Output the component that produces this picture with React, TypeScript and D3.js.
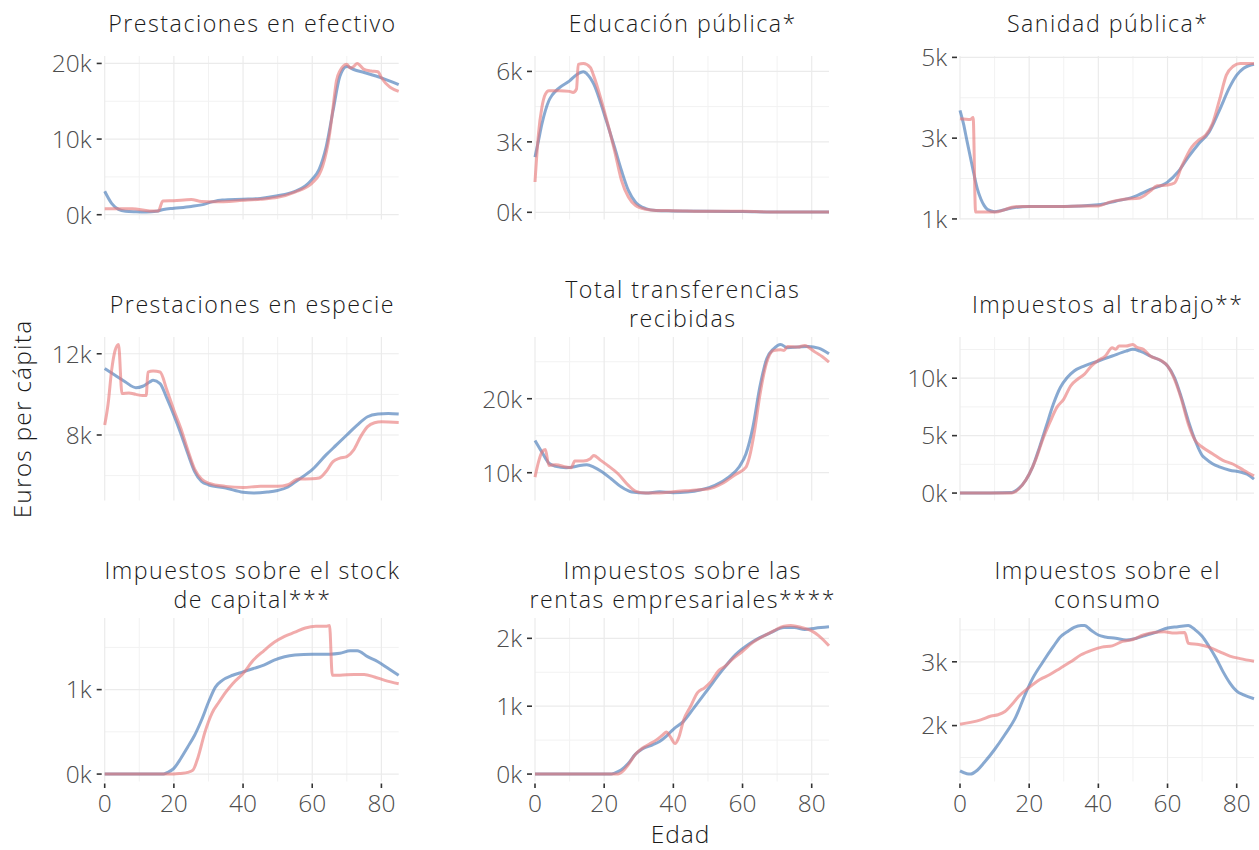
import React from "react";
import * as d3 from "d3";

type Pt = [number, number];

// ---------- DATA (euros per cápita by age) ----------
const ageTicks = [0, 20, 40, 60, 80];
const ageMinor = [10, 30, 50, 70];

const titles: string[][] = [
  ["Prestaciones en efectivo"],
  ["Educación pública*"],
  ["Sanidad pública*"],
  ["Prestaciones en especie"],
  ["Total transferencias", "recibidas"],
  ["Impuestos al trabajo**"],
  ["Impuestos sobre el stock", "de capital***"],
  ["Impuestos sobre las", "rentas empresariales****"],
  ["Impuestos sobre el", "consumo"],
];

const yBreaks: number[][] = [
  [0, 10000, 20000],
  [0, 3000, 6000],
  [1000, 3000, 5000],
  [8000, 12000],
  [10000, 20000],
  [0, 5000, 10000],
  [0, 1000],
  [0, 1000, 2000],
  [2000, 3000],
];

const efectivoA: Pt[] = [[0,3100],[2,1500],[4,700],[6,450],[9,380],[12,350],[15,450],[17,700],[20,850],[25,1100],[28,1300],[31,1700],[34,1950],[40,2050],[45,2150],[50,2500],[55,3100],[58,3800],[60,4700],[62,6000],[64,8900],[66,13700],[68,18300],[70,19600],[72,19200],[75,18800],[80,18100],[85,17200]];
const efectivoB: Pt[] = [[0,800],[8,800],[13,500],[15.5,500],[16.8,1800],[20,1850],[25,2000],[28,1750],[32,1700],[40,1900],[45,2050],[50,2300],[55,3000],[60,4200],[62,5300],[63,6400],[65,10600],[66,14100],[67,17700],[68,19000],[70,19900],[71,19400],[72,19600],[73,20000],[75,19200],[77,19000],[79,18900],[80,18100],[85,16300]];

const educacionA: Pt[] = [[0,2350],[1,3050],[2,3760],[3,4330],[4,4750],[5,5000],[7,5300],[10,5600],[12,5860],[14,5990],[15,5900],[17,5460],[20,4190],[23,2770],[25,1780],[27,930],[29,440],[32,160],[35,80],[40,60],[50,40],[60,30],[70,10],[85,10]];
const educacionB: Pt[] = [[0,1290],[1,3340],[2,4470],[3,5030],[4,5180],[7,5180],[10,5150],[11,5100],[12,5250],[12.5,6300],[14,6340],[16,6170],[17,5800],[20,4330],[23,2630],[25,1360],[27,650],[29,300],[32,130],[35,80],[40,70],[50,40],[60,40],[70,10],[85,10]];

const sanidadA: Pt[] = [[0,3690],[1,3360],[2,2940],[3,2530],[4,2120],[5,1750],[6,1500],[7,1330],[8,1230],[10,1180],[12,1210],[15,1270],[20,1310],[30,1310],[40,1350],[45,1440],[50,1540],[55,1730],[60,1910],[63,2160],[66,2530],[69,2860],[72,3150],[75,3690],[78,4270],[80,4560],[82,4730],[85,4830]];
const sanidadB: Pt[] = [[0,3480],[3,3460],[3.8,3510],[4.5,1170],[10,1170],[11,1180],[13,1230],[15,1290],[18,1310],[25,1310],[30,1310],[35,1320],[40,1320],[43,1410],[47,1480],[52,1520],[55,1690],[57,1820],[60,1840],[62,1890],[64,2280],[67,2780],[69,2950],[71,3070],[73,3360],[75,3940],[77,4560],[79,4780],[81,4850],[85,4850]];

const especieA: Pt[] = [[0,11270],[3,10940],[6,10610],[9,10330],[11,10400],[13,10610],[14,10690],[16,10530],[18,9800],[20,8980],[22,8080],[24,7100],[26,6200],[28,5710],[30,5550],[35,5390],[40,5180],[43,5140],[47,5190],[50,5270],[53,5440],[56,5800],[60,6290],[64,7020],[67,7510],[70,8000],[73,8490],[76,8900],[79,9030],[82,9060],[85,9030]];
const especieB: Pt[] = [[0,8490],[1,9550],[2,11180],[3,12160],[4,12460],[5,10040],[7,10070],[9,10000],[11,9940],[12,9940],[12.5,11100],[14,11150],[16,11100],[18,10200],[20,9220],[22,8330],[24,7270],[26,6320],[28,5830],[30,5630],[35,5470],[40,5420],[45,5470],[50,5470],[53,5550],[56,5830],[60,5840],[62,5880],[64,6200],[66,6690],[68,6860],[70,6940],[72,7270],[74,7920],[76,8410],[78,8600],[80,8650],[85,8620]];

const totalA: Pt[] = [[0,14370],[2,12790],[4,11300],[6,10860],[9,10680],[11,10770],[13,10990],[15,11080],[17,10770],[19,10230],[22,9190],[25,8060],[28,7390],[32,7250],[36,7430],[40,7300],[44,7390],[48,7700],[52,8290],[56,9410],[59,10770],[61,12570],[63,16170],[65,21580],[67,25400],[69,26760],[71,27340],[73,26890],[76,26980],[79,27070],[82,26850],[85,26080]];
const totalB: Pt[] = [[0,9410],[1,11440],[2,12790],[3,13150],[4,10990],[6,11080],[9,10770],[10.5,10680],[11.5,11580],[14,11580],[16,11890],[17,12340],[19,11670],[21,10990],[24,9860],[27,8290],[29,7520],[32,7250],[36,7250],[40,7430],[45,7610],[50,7790],[54,8510],[58,9770],[61,10770],[62,12120],[63.5,15720],[65,20450],[67,24950],[69,26530],[71,26620],[72,26530],[73,27070],[76,26980],[78,27200],[79,26980],[81,26300],[83,25720],[85,24950]];

const trabajoA: Pt[] = [[0,0],[15,60],[17,400],[19,1120],[21,2280],[23,4000],[25,5880],[27,7750],[29,9190],[31,10060],[33,10630],[36,11070],[40,11500],[44,11930],[48,12360],[50,12510],[52,12360],[55,11930],[60,11070],[62,10060],[64,8330],[66,6310],[68,4580],[70,3290],[71,3000],[73,2560],[75,2280],[78,1990],[81,1840],[83,1640],[85,1210]];
const trabajoB: Pt[] = [[0,0],[15,0],[16,120],[18,690],[20,1640],[22,3000],[24,4730],[26,6170],[28,7460],[30,8180],[32,9340],[34,9910],[36,10350],[38,11070],[40,11560],[42,11930],[44,12650],[45,12510],[46,12800],[48,12800],[50,12940],[51,12710],[53,12510],[55,11930],[58,11560],[60,11070],[62,9910],[64,8180],[66,6020],[68,4580],[70,4010],[73,3430],[76,2850],[79,2510],[82,1990],[85,1500]];

const capitalA: Pt[] = [[0,0],[17,0],[18,16],[20,67],[22,185],[24,320],[26,460],[28,640],[30,850],[32,1030],[34,1110],[37,1170],[40,1210],[43,1250],[46,1290],[49,1350],[52,1390],[55,1410],[60,1420],[65,1420],[68,1430],[71,1460],[73,1460],[76,1390],[79,1330],[82,1250],[85,1170]];
const capitalB: Pt[] = [[0,0],[20,0],[22,8],[24,20],[25.5,47],[27,200],[29,500],[31,720],[33,850],[35,970],[37,1070],[40,1190],[43,1350],[46,1460],[49,1560],[52,1630],[55,1680],[58,1730],[61,1750],[64,1750],[65,1760],[65.8,1170],[68,1170],[72,1180],[75,1180],[78,1150],[81,1110],[85,1070]];

const rentasA: Pt[] = [[0,0],[22,0],[23,15],[25,64],[27,160],[29,290],[31,370],[34,430],[36,480],[38,560],[40,660],[43,780],[46,980],[50,1250],[54,1520],[58,1760],[62,1920],[65,2010],[68,2080],[72,2160],[75,2160],[78,2130],[81,2150],[85,2170]];
const rentasB: Pt[] = [[0,0],[24,0],[25,25],[27,140],[29,290],[31,380],[33,440],[35,500],[37,580],[38,620],[39,560],[40.5,450],[41.5,530],[43,800],[45,1000],[47,1200],[49,1270],[51,1370],[53,1520],[55,1590],[57,1690],[60,1810],[63,1940],[66,2030],[69,2110],[72,2180],[74,2190],[77,2160],[80,2110],[82,2040],[85,1890]];

const consumoA: Pt[] = [[0,1290],[2,1245],[3,1240],[5,1300],[7,1420],[10,1625],[13,1860],[16,2120],[19,2510],[21,2740],[24,3000],[27,3240],[29,3390],[31,3470],[33,3540],[35,3570],[36,3570],[38,3490],[40,3420],[42,3390],[45,3370],[48,3340],[51,3370],[54,3420],[57,3470],[60,3530],[63,3550],[66,3570],[68,3500],[70,3400],[72,3240],[74,3060],[76,2850],[78,2670],[80,2540],[82,2480],[85,2420]];
const consumoB: Pt[] = [[0,2020],[3,2050],[6,2090],[9,2150],[11,2170],[13,2220],[15,2330],[17,2460],[20,2600],[23,2720],[26,2800],[29,2900],[32,3000],[35,3110],[38,3180],[41,3230],[44,3250],[47,3320],[50,3350],[53,3420],[56,3460],[59,3470],[62,3450],[65,3460],[66,3290],[69,3270],[72,3230],[75,3160],[78,3090],[81,3050],[85,3010]];

const seriesA: Pt[][] = [efectivoA, educacionA, sanidadA, especieA, totalA, trabajoA, capitalA, rentasA, consumoA];
const seriesB: Pt[][] = [efectivoB, educacionB, sanidadB, especieB, totalB, trabajoB, capitalB, rentasB, consumoB];

// ---------- LAYOUT ----------
const W = 1259;
const H = 850;
const colX = [104.7, 535, 960];
const rowY = [56, 337, 618];
const PW = 294;
const PH = 163.5;
const FONT = "'Open Sans', Lato, sans-serif";
const BLUE = "#3f74b5";
const RED = "#e87878";

function Panel({ i }: { i: number }) {
  const col = i % 3;
  const row = Math.floor(i / 3);
  const x0 = colX[col];
  const y0 = rowY[row];
  const a = seriesA[i];
  const b = seriesB[i];
  const all = [...a, ...b].map((d) => d[1]);
  const mn = d3.min(all) as number;
  const mx = d3.max(all) as number;
  const pad = (mx - mn) * 0.05;
  const x = d3.scaleLinear().domain([0, 85]).range([x0, x0 + PW]);
  const y = d3.scaleLinear().domain([mn - pad, mx + pad]).range([y0 + PH, y0]);
  const [d0, d1] = y.domain();
  const br = yBreaks[i];
  const step = br.length > 1 ? br[1] - br[0] : 1000;
  const minor: number[] = [];
  for (let k = -1; k < br.length; k++) {
    const v = br[0] + step * (k + 0.5);
    if (v >= d0 && v <= d1) minor.push(v);
  }
  const line = d3
    .line<Pt>()
    .x((d) => x(d[0]))
    .y((d) => y(d[1]))
    .curve(d3.curveMonotoneX);
  const t = titles[i];
  const titleY = t.length === 2 ? y0 - 39 : y0 - 24;
  const cx = x0 + PW / 2 + 0.75;
  return (
    <g>
      {minor.map((v) => (
        <line key={"hm" + v} x1={x0} x2={x0 + PW} y1={y(v)} y2={y(v)} stroke="#f2f2f2" strokeWidth={1} />
      ))}
      {ageMinor.map((v) => (
        <line key={"vm" + v} x1={x(v)} x2={x(v)} y1={y0} y2={y0 + PH} stroke="#f2f2f2" strokeWidth={1} />
      ))}
      {br.map((v) => (
        <line key={"hM" + v} x1={x0} x2={x0 + PW} y1={y(v)} y2={y(v)} stroke="#ebebeb" strokeWidth={1.2} />
      ))}
      {ageTicks.map((v) => (
        <line key={"vM" + v} x1={x(v)} x2={x(v)} y1={y0} y2={y0 + PH} stroke="#ebebeb" strokeWidth={1.2} />
      ))}
      <path d={line(a) || ""} fill="none" stroke={BLUE} strokeOpacity={0.62} strokeWidth={3} strokeLinejoin="round" />
      <path d={line(b) || ""} fill="none" stroke={RED} strokeOpacity={0.62} strokeWidth={3} strokeLinejoin="round" />
      {br.map((v) => (
        <g key={"yt" + v}>
          <line x1={x0 - 8} x2={x0 - 3} y1={y(v)} y2={y(v)} stroke="#333" strokeWidth={1.6} />
          <text x={x0 - 13} y={y(v)} dy="0.36em" textAnchor="end" fontSize={24.5} fill="#4d4d4d" fontWeight={300}>
            {v / 1000 + "k"}
          </text>
        </g>
      ))}
      {row === 2 &&
        ageTicks.map((v) => (
          <g key={"xt" + v}>
            <line x1={x(v)} x2={x(v)} y1={y0 + PH + 2} y2={y0 + PH + 6.5} stroke="#333" strokeWidth={1.6} />
            <text x={x(v)} y={y0 + PH + 30} textAnchor="middle" fontSize={24.5} fill="#4d4d4d" fontWeight={300}>
              {v}
            </text>
          </g>
        ))}
      <text
        x={cx}
        y={titleY}
        textAnchor="middle"
        fontSize={23.2}
        letterSpacing={1.5}
        fill="#1a1a1a"
        fontWeight={300}
      >
        {t.map((s, k) => (
          <tspan key={k} x={cx} dy={k === 0 ? 0 : 28.5}>
            {s}
          </tspan>
        ))}
      </text>
    </g>
  );
}

export default function App() {
  return (
    <svg
      width={W}
      height={H}
      style={{ position: "absolute", left: 0, top: 0, background: "#fff" }}
      fontFamily={FONT}
    >
      <rect width={W} height={H} fill="#fff" />
      {titles.map((_, i) => (
        <Panel key={i} i={i} />
      ))}
      <text x={680.5} y={843} textAnchor="middle" fontSize={24.5} letterSpacing={1} fill="#1a1a1a" fontWeight={300}>
        Edad
      </text>
      <text
        transform="translate(30.5,419) rotate(-90)"
        textAnchor="middle"
        fontSize={24.5}
        letterSpacing={1.2}
        fill="#1a1a1a"
        fontWeight={300}
      >
        Euros per cápita
      </text>
    </svg>
  );
}
